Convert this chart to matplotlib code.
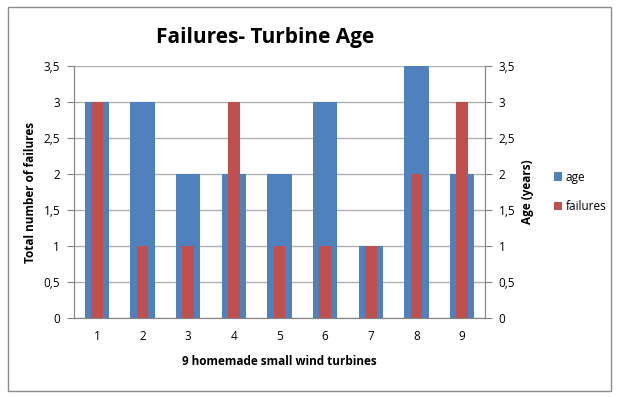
import numpy as np
import matplotlib.pyplot as plt
from matplotlib.patches import Rectangle
from matplotlib.ticker import FuncFormatter

turbines = ["1", "2", "3", "4", "5", "6", "7", "8", "9"]
age = [3, 3, 2, 2, 2, 3, 1, 3.5, 2]
failures = [3, 1, 1, 3, 1, 1, 1, 2, 3]
yticks = [0, 0.5, 1, 1.5, 2, 2.5, 3, 3.5]

plt.rcParams["font.family"] = ["Open Sans", "DejaVu Sans"]

fig = plt.figure(figsize=(6.17, 3.97), dpi=100)
fig.patches.append(Rectangle((8 / 617, 6 / 397), 603 / 617, 384 / 397,
                             transform=fig.transFigure, fill=False,
                             edgecolor="#8c8c8c", lw=1))

ax = fig.add_axes([0.12, 0.199, 0.666, 0.635])
ax2 = ax.twinx()

x = np.arange(len(turbines))
ax.bar(x, age, width=0.53, color="#4F81BD", label="age", zorder=2)
ax2.bar(x, failures, width=0.26, color="#C0504D", label="failures", zorder=3)

comma = FuncFormatter(lambda v, p: f"{v:g}".replace(".", ","))
for a in (ax, ax2):
    a.set_ylim(0, 3.5)
    a.set_yticks(yticks)
    a.yaxis.set_major_formatter(comma)
    a.set_xlim(-0.5, len(turbines) - 0.5)
    a.tick_params(axis="y", labelsize=8.5, length=5, color="#868686", pad=5)
    for s in a.spines.values():
        s.set_color("#868686")
    a.spines["top"].set_visible(False)

ax.set_xticks(x)
ax.set_xticklabels(turbines)
ax.tick_params(axis="x", length=0, labelsize=8.5, pad=9)
ax.grid(axis="y", color="#b0b0b0", lw=1, zorder=0)
ax.set_axisbelow(True)

ax.set_ylabel("Total number of failures", fontsize=8.5, fontweight="bold", labelpad=5)
ax2.set_ylabel("Age (years)", fontsize=8.5, fontweight="bold", labelpad=4)
ax.set_xlabel("9 homemade small wind turbines", fontsize=8.5, fontweight="bold", labelpad=8)

fig.text(265 / 617, 1 - 37 / 397, "Failures- Turbine Age", fontsize=15,
         fontweight="bold", ha="center", va="center")

h1, l1 = ax.get_legend_handles_labels()
h2, l2 = ax2.get_legend_handles_labels()
fig.legend(h1 + h2, l1 + l2, loc="center left", bbox_to_anchor=(548 / 617, 1 - 192 / 397),
           frameon=False, fontsize=8.5, handlelength=0.7, handleheight=0.7,
           handletextpad=0.3, labelspacing=1.4, borderpad=0)

fig.savefig("out.png", dpi=100)
